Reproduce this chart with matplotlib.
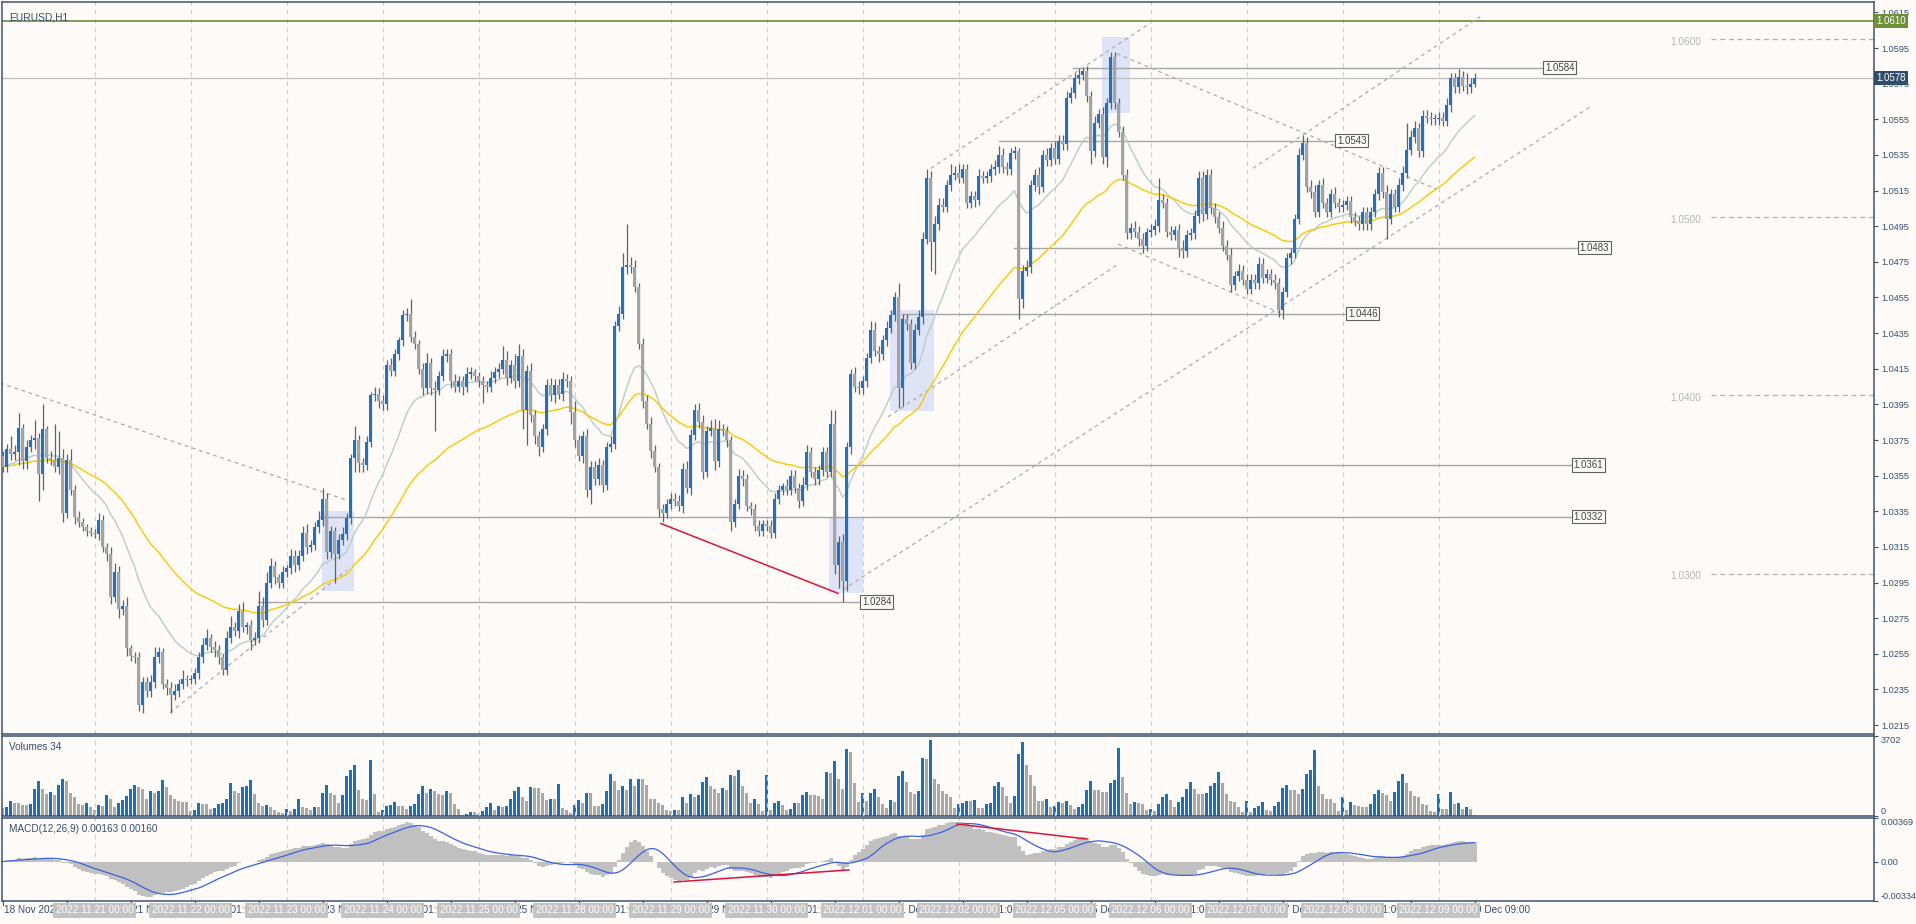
# -*- coding: utf-8 -*-
""" EURUSD H1 chart (MT5 style) with volumes and MACD panels
"""
import numpy as np
import pandas as pd
import matplotlib
matplotlib.use("Agg")
import matplotlib.pyplot as plt
import matplotlib.transforms as mtrans

# ------------------------------------------------------------------
# data
# ------------------------------------------------------------------
first_open = 1.0366

closes = [
    1.0360, 1.0370, 1.0367, 1.0368, 1.0382, 1.0363, 1.0371, 1.0375, 1.0376, 1.0356, 1.0381, 1.0365,
    1.0364, 1.0360, 1.0365, 1.0334, 1.0364, 1.0347, 1.0332, 1.0329, 1.0326, 1.0324, 1.0323, 1.0322,
    1.0330, 1.0315, 1.0311, 1.0287, 1.0301, 1.0280, 1.0282, 1.0258, 1.0254, 1.0253, 1.0226, 1.0239,
    1.0234, 1.0239, 1.0253, 1.0256, 1.0238, 1.0236, 1.0232, 1.0234, 1.0238, 1.0241, 1.0240, 1.0241,
    1.0244, 1.0253, 1.0260, 1.0264, 1.0259, 1.0257, 1.0253, 1.0246, 1.0264, 1.0270, 1.0268, 1.0279,
    1.0270, 1.0271, 1.0263, 1.0264, 1.0282, 1.0274, 1.0295, 1.0304, 1.0298, 1.0295, 1.0301, 1.0303,
    1.0310, 1.0305, 1.0310, 1.0323, 1.0315, 1.0316, 1.0326, 1.0330, 1.0342, 1.0312, 1.0324, 1.0311,
    1.0319, 1.0322, 1.0331, 1.0365, 1.0375, 1.0362, 1.0361, 1.0374, 1.0400, 1.0401, 1.0397, 1.0395,
    1.0417, 1.0414, 1.0423, 1.0431, 1.0445, 1.0446, 1.0433, 1.0429, 1.0415, 1.0404, 1.0418, 1.0404,
    1.0403, 1.0411, 1.0422, 1.0423, 1.0408, 1.0405, 1.0408, 1.0405, 1.0412, 1.0413, 1.0411, 1.0408,
    1.0406, 1.0405, 1.0410, 1.0413, 1.0415, 1.0420, 1.0410, 1.0417, 1.0408, 1.0422, 1.0392, 1.0414,
    1.0389, 1.0377, 1.0371, 1.0381, 1.0406, 1.0400, 1.0406, 1.0401, 1.0409, 1.0408, 1.0391, 1.0375,
    1.0366, 1.0377, 1.0347, 1.0360, 1.0353, 1.0361, 1.0350, 1.0371, 1.0373, 1.0439, 1.0446, 1.0472,
    1.0473, 1.0472, 1.0461, 1.0429, 1.0397, 1.0384, 1.0369, 1.0360, 1.0336, 1.0334, 1.0339, 1.0342,
    1.0341, 1.0338, 1.0359, 1.0348, 1.0378, 1.0392, 1.0385, 1.0357, 1.0380, 1.0382, 1.0363, 1.0381,
    1.0380, 1.0375, 1.0329, 1.0339, 1.0355, 1.0353, 1.0338, 1.0336, 1.0327, 1.0324, 1.0328, 1.0327,
    1.0323, 1.0342, 1.0347, 1.0349, 1.0347, 1.0355, 1.0348, 1.0341, 1.0350, 1.0368, 1.0357, 1.0353,
    1.0358, 1.0368, 1.0357, 1.0384, 1.0305, 1.0318, 1.0296, 1.0371, 1.0412, 1.0405, 1.0404, 1.0408,
    1.0421, 1.0437, 1.0425, 1.0423, 1.0431, 1.0438, 1.0445, 1.0455, 1.0404, 1.0443, 1.0440, 1.0418,
    1.0437, 1.0444, 1.0488, 1.0522, 1.0486, 1.0496, 1.0507, 1.0506, 1.0518, 1.0524, 1.0525, 1.0522,
    1.0527, 1.0508, 1.0512, 1.0510, 1.0523, 1.0522, 1.0523, 1.0527, 1.0528, 1.0535, 1.0528, 1.0527,
    1.0536, 1.0537, 1.0454, 1.0470, 1.0472, 1.0518, 1.0524, 1.0517, 1.0535, 1.0532, 1.0539, 1.0533,
    1.0543, 1.0541, 1.0567, 1.0570, 1.0578, 1.0580, 1.0582, 1.0568, 1.0537, 1.0553, 1.0558, 1.0534,
    1.0564, 1.0590, 1.0564, 1.0548, 1.0524, 1.0491, 1.0494, 1.0492, 1.0488, 1.0484, 1.0492, 1.0493,
    1.0495, 1.0510, 1.0508, 1.0492, 1.0490, 1.0493, 1.0482, 1.0481, 1.0490, 1.0491, 1.0501, 1.0522,
    1.0502, 1.0524, 1.0505, 1.0500, 1.0494, 1.0484, 1.0479, 1.0462, 1.0467, 1.0470, 1.0465, 1.0460,
    1.0465, 1.0463, 1.0474, 1.0466, 1.0468, 1.0465, 1.0463, 1.0448, 1.0458, 1.0477, 1.0480, 1.0499,
    1.0535, 1.0542, 1.0517, 1.0514, 1.0503, 1.0518, 1.0508, 1.0503, 1.0513, 1.0508, 1.0506, 1.0507,
    1.0509, 1.0500, 1.0498, 1.0496, 1.0503, 1.0496, 1.0503, 1.0513, 1.0525, 1.0514, 1.0499, 1.0513,
    1.0506, 1.0518, 1.0525, 1.0538, 1.0545, 1.0550, 1.0537, 1.0557, 1.0556, 1.0555, 1.0555, 1.0556,
    1.0554, 1.0563, 1.0578, 1.0573, 1.0579, 1.0574, 1.0573, 1.0575, 1.0578,
]

# upper / lower wicks in pips
wick_hi = [
    3, 3, 7, 4, 8, 2, 4, 3, 10, 3, 14, 2,
    4, 20, 15, 5, 3, 6, 3, 3, 2, 2, 2, 2,
    4, 3, 2, 4, 5, 3, 3, 5, 2, 2, 3, 3,
    3, 4, 6, 3, 2, 3, 3, 4, 3, 5, 2, 2,
    3, 3, 4, 5, 2, 3, 3, 2, 4, 6, 3, 4,
    5, 2, 3, 3, 8, 5, 6, 5, 3, 2, 3, 2,
    4, 3, 3, 4, 5, 3, 3, 5, 6, 3, 3, 2,
    3, 4, 3, 2, 8, 3, 3, 3, 2, 4, 3, 3,
    3, 4, 3, 2, 3, 3, 8, 3, 2, 3, 6, 3,
    4, 3, 4, 3, 3, 4, 3, 3, 4, 3, 2, 2,
    3, 2, 4, 3, 3, 8, 5, 3, 6, 7, 4, 3,
    4, 3, 3, 3, 3, 4, 3, 3, 4, 3, 3, 6,
    3, 3, 4, 3, 3, 4, 3, 3, 4, 3, 4, 8,
    23, 5, 4, 2, 3, 3, 4, 3, 2, 3, 3, 3,
    3, 3, 3, 4, 3, 3, 4, 4, 3, 4, 5, 5,
    3, 3, 2, 3, 4, 3, 3, 2, 3, 3, 2, 2,
    3, 3, 3, 2, 4, 3, 3, 3, 4, 4, 3, 3,
    3, 3, 3, 8, 8, 3, 4, 3, 3, 4, 3, 3,
    3, 5, 4, 3, 3, 4, 3, 3, 8, 3, 3, 3,
    3, 4, 4, 5, 4, 5, 4, 4, 3, 6, 4, 5,
    3, 3, 3, 3, 4, 3, 3, 3, 4, 5, 4, 3,
    3, 3, 2, 3, 4, 3, 3, 4, 3, 4, 3, 4,
    3, 3, 4, 3, 3, 4, 2, 3, 3, 4, 3, 4,
    3, 3, 3, 3, 3, 3, 3, 4, 3, 3, 2, 3,
    4, 12, 3, 3, 3, 2, 3, 5, 3, 3, 3, 4,
    4, 3, 3, 3, 3, 4, 3, 4, 3, 4, 3, 3,
    3, 3, 4, 3, 3, 3, 3, 3, 3, 3, 3, 3,
    4, 4, 3, 4, 4, 3, 4, 3, 3, 4, 3, 3,
    3, 3, 3, 3, 3, 3, 3, 3, 3, 3, 4, 3,
    3, 4, 4, 15, 4, 4, 3, 3, 3, 3, 3, 3,
    3, 4, 3, 3, 4, 3, 7, 3, 3,
]
wick_lo = [
    3, 3, 3, 3, 7, 4, 4, 3, 5, 15, 9, 3,
    3, 3, 4, 5, 3, 3, 4, 3, 2, 3, 2, 2,
    3, 3, 4, 4, 3, 5, 3, 4, 3, 3, 3, 4,
    3, 3, 3, 3, 3, 4, 10, 3, 3, 3, 3, 2,
    3, 3, 3, 3, 3, 4, 4, 3, 3, 3, 3, 4,
    3, 4, 6, 3, 3, 4, 3, 3, 4, 3, 3, 3,
    3, 4, 3, 3, 4, 3, 3, 3, 3, 4, 3, 16,
    3, 3, 3, 3, 8, 5, 4, 3, 3, 3, 4, 3,
    3, 3, 3, 3, 3, 3, 3, 3, 3, 4, 3, 4,
    23, 3, 3, 3, 4, 3, 3, 5, 3, 3, 3, 3,
    10, 3, 3, 3, 3, 3, 4, 3, 4, 3, 11, 20,
    4, 4, 5, 3, 3, 3, 4, 3, 4, 3, 7, 4,
    3, 4, 4, 8, 3, 3, 4, 3, 3, 3, 3, 3,
    4, 3, 3, 3, 4, 3, 4, 3, 4, 5, 3, 3,
    3, 3, 4, 3, 4, 3, 3, 4, 3, 3, 5, 3,
    3, 4, 5, 3, 3, 4, 3, 3, 3, 3, 3, 3,
    3, 3, 3, 3, 3, 3, 3, 4, 3, 3, 3, 3,
    3, 3, 3, 3, 5, 13, 12, 6, 4, 3, 3, 3,
    3, 3, 3, 4, 3, 3, 3, 3, 11, 10, 3, 3,
    3, 3, 4, 3, 16, 18, 3, 3, 3, 3, 3, 3,
    3, 3, 3, 4, 3, 3, 3, 3, 3, 3, 3, 3,
    3, 3, 11, 5, 3, 3, 3, 4, 3, 3, 3, 3,
    3, 3, 3, 3, 3, 3, 3, 3, 7, 3, 3, 4,
    6, 3, 3, 3, 3, 3, 3, 3, 4, 4, 3, 3,
    3, 3, 3, 3, 3, 3, 4, 4, 3, 3, 3, 4,
    4, 3, 3, 3, 3, 3, 3, 4, 3, 3, 3, 3,
    3, 3, 3, 3, 3, 3, 3, 4, 5, 3, 3, 3,
    3, 3, 3, 3, 3, 3, 3, 3, 3, 3, 3, 3,
    3, 3, 3, 3, 3, 3, 3, 3, 3, 3, 11, 3,
    3, 3, 3, 3, 3, 3, 3, 3, 3, 3, 3, 3,
    3, 3, 4, 3, 3, 3, 4, 3, 2,
]

volumes = [
    370, 450, 750, 650, 650, 550, 550, 600, 1300, 1700, 1300, 1050, 1150, 1000, 1500, 1800, 1700, 1100, 900, 600, 550, 650, 450,
    300, 550, 500, 1000, 850, 450, 650, 800, 950, 1300, 1500, 1400, 1300, 850, 1200, 1100, 1200, 1750, 1400, 1000, 850, 750, 700, 700,
    250, 300, 650, 600, 600, 350, 400, 600, 650, 850, 1600, 1200, 1100, 1400, 1450, 1750, 1050, 650, 500, 550, 450, 300, 200, 150,
    350, 250, 350, 850, 450, 400, 300, 450, 450, 1100, 1500, 1100, 1000, 650, 1000, 1950, 2250, 2500, 1250, 850, 800, 2700, 1050, 200,
    300, 500, 550, 700, 500, 500, 350, 500, 600, 1050, 1450, 1100, 1300, 1200, 1050, 1000, 1200, 1100, 600, 350, 50, 100, 200, 200,
    120, 250, 450, 650, 300, 500, 450, 500, 850, 1200, 1400, 900, 750, 1400, 1350, 1350, 1100, 800, 850, 850, 1550, 400, 270, 150,
    550, 800, 650, 1100, 1100, 500, 500, 600, 1200, 2050, 1700, 1250, 1450, 1250, 1800, 1450, 1800, 1800, 1500, 850, 850, 650, 550, 300,
    250, 300, 300, 900, 650, 1050, 900, 1000, 1650, 1900, 1450, 1300, 1100, 1350, 1250, 2000, 1950, 2220,
    1450, 1100, 650, 850, 600, 250, 2000, 300, 650, 750, 550, 300, 350, 650, 650, 1000, 1150, 1000, 1000, 950, 850, 2150, 2100, 2650,
    1800, 1300, 3250, 3100, 1600, 700,
    1100, 750, 1100, 1300, 900, 600, 400, 800, 700, 1950, 2200, 1650, 1150, 1050, 1200, 2800, 2750, 3702, 1800, 1550, 1200, 1050, 900, 400,
    600, 650, 750, 750, 800, 400, 400, 600, 650, 1450, 1650, 1400, 950, 650, 950, 3000, 3600, 2500, 2000, 1450, 750, 750, 850, 450,
    500, 700, 650, 750, 550, 350, 450, 600, 1250, 1700, 1250, 1250, 1150, 1150, 1600, 1750, 3300, 1900, 1100, 600, 700, 650, 600, 300,
    350, 250, 600, 900, 1050, 800, 450, 700, 900, 1300, 1650, 1300, 1050, 1050, 1100, 1450, 1600, 2150, 1600, 1050, 750, 700, 450, 200,
    750, 200, 400, 500, 700, 300, 250, 500, 700, 1350, 1500, 1250, 1250, 1050, 1300, 2050, 2250, 3200, 1450, 1050, 850, 850, 650, 250,
    900, 300, 700, 550, 500, 450, 450, 600, 1050, 1250, 1100, 1000, 750, 1150, 1700, 2050, 1600, 1200, 950, 900, 600, 550, 250, 200,
    1050, 350, 350, 1150, 600, 650, 350, 450, 350, 50,
]

# price level lines: (price, bar from, bar to)
level_lines = [
    (1.0584, 267.6, 385.0),
    (1.0543, 249.1, 333.0),
    (1.0483, 252.9, 393.6),
    (1.0446, 224.9, 335.8),
    (1.0361, 210.9, 392.2),
    (1.0332, 79.4, 392.2),
    (1.0284, 63.9, 214.3),
]
round_levels = [1.0600, 1.0500, 1.0400, 1.0300]

# dashed trend lines: (bar, price) -> (bar, price)
trend_lines = [
    ((-0.6, 1.0407), (86.4, 1.0341)),
    ((41.9, 1.0222), (86.1, 1.0302)),
    ((210.1, 1.0291), (396.9, 1.0562)),
    ((232.1, 1.05275), (286.9, 1.0609)),
    ((312.6, 1.05275), (369.4, 1.06126)),
    ((221.4, 1.0388), (278.9, 1.04737)),
    ((278.6, 1.05919), (358.6, 1.05157)),
    ((278.9, 1.04849), (320.1, 1.04457)),
]
red_line = ((164.6, 1.03281), (208.9, 1.02889))
macd_red_lines = [
    ((167.9, -0.00173), (211.6, -0.00071)),
    ((238.6, 0.00318), (271.1, 0.00191)),
]

# highlighted rectangles: bar from, bar to, price low, price high
boxes = [
    (79.9, 87.9, 1.02900, 1.03354),
    (206.6, 215.1, 1.02889, 1.03320),
    (221.9, 232.9, 1.03914, 1.04480),
    (274.9, 281.9, 1.05588, 1.06014),
]

alert_price = 1.0610
last_price = 1.0578
macd_hi, macd_lo = 0.00369, -0.00334

# ------------------------------------------------------------------
# colours
# ------------------------------------------------------------------
bg = "#fdfaf8"
frame = "#3b536b"
txt = "#34506e"
bull = "#2271c0"
bear = "#a3a3a3"
wick_c = "#56666e"
grid_c = "#cdcdcd"

plt.rcParams["font.family"] = ["Liberation Sans", "DejaVu Sans"]
fs = 6.6

W, H = 1916, 924
fig = plt.figure(figsize=(W / 100, H / 100), dpi=100)
fig.patch.set_facecolor(bg)


def ax_px(x0, y0, x1, y1):
    """ pixel box -> axes """
    a = fig.add_axes([x0 / W, 1 - y1 / H, (x1 - x0) / W, (y1 - y0) / H])
    a.set_facecolor(bg)
    for s in a.spines.values():
        s.set_color(frame)
        s.set_linewidth(1.1)
    a.set_xlim(-0.125, 467.875)
    a.tick_params(axis="x", bottom=False, labelbottom=False)
    a.yaxis.tick_right()
    a.tick_params(axis="y", length=3, width=0.8, color=frame, labelsize=fs, labelcolor=txt, pad=2)
    return a


n = len(closes)
idx = np.arange(n)
c = np.array(closes)
o = np.concatenate([[first_open], c[:-1]])
hi = np.maximum(o, c) + np.array(wick_hi) * 0.0001
lo = np.minimum(o, c) - np.array(wick_lo) * 0.0001
up = c >= o

times = pd.date_range("2022-11-18 01:00", "2022-12-09 09:00", freq="h")
times = times[times.dayofweek < 5]
day_starts = [i for i, t in enumerate(times) if t.hour == 0]

# ------------------------------------------------------------------
# main price panel
# ------------------------------------------------------------------
ax = ax_px(2, 2, 1874, 734)
ax.set_ylim(1.020996, 1.062088)
pticks = [1.0215 + 0.002 * k for k in range(21)]
ax.set_yticks(pticks)
ax.set_yticklabels(["%.4f" % p for p in pticks])

for d in day_starts:
    ax.axvline(d, color=grid_c, lw=0.8, dashes=(4, 4), zorder=0)

for b0, b1, p0, p1 in boxes:
    ax.add_patch(plt.Rectangle((b0, p0), b1 - b0, p1 - p0, fc="#dfe3f7", ec="none", zorder=0.5))

# round levels (dashed) with light labels
for p in round_levels:
    ax.plot([427, 467.875], [p, p], color="#b0b0b0", lw=0.9, dashes=(4, 3), zorder=1)
    ax.text(417.0, p - 0.00016, "%.4f" % p, fontsize=7.2, color="#b4b4b4", va="center", ha="left", zorder=1)

ax.axhline(alert_price, color="#6e8b3d", lw=1.2, zorder=1)
ax.axhline(last_price, color="#bdbdbd", lw=0.9, zorder=1)

for p, b0, b1 in level_lines:
    ax.plot([b0, b1], [p, p], color="#a6a6a6", lw=1.0, zorder=1)
    ax.text(b1 + 0.6, p, "%.4f" % p, fontsize=7.0, color="#444444", va="center", ha="left", zorder=6,
            bbox=dict(boxstyle="square,pad=0.18", fc=bg, ec="#606060", lw=0.8))

for (b0, p0), (b1, p1) in trend_lines:
    ax.plot([b0, b1], [p0, p1], color="#ababab", lw=0.9, dashes=(3, 3), zorder=1.5)
ax.plot([red_line[0][0], red_line[1][0]], [red_line[0][1], red_line[1][1]], color="#dc143c", lw=1.1, zorder=5)

# moving averages
cs = pd.Series(c)
ma_fast = cs.ewm(span=20, adjust=False).mean()
ma_slow = cs.ewm(span=50, adjust=False).mean()
ax.plot(idx, ma_fast, color="#b7cdca", lw=1.0, zorder=2)
ax.plot(idx, ma_slow, color="#f7c900", lw=1.0, zorder=2)

# candles
ax.vlines(idx, lo, hi, color=wick_c, lw=0.9, zorder=3)
body = np.maximum(np.abs(c - o), 0.00005)
ax.bar(idx, body, bottom=np.minimum(o, c), width=0.75, color=np.where(up, bull, bear), lw=0, zorder=4)

ax.text(0.004, 0.985, "EURUSD,H1", transform=ax.transAxes, fontsize=7.4, color=txt, va="top", ha="left")

# right side price tags
tr = mtrans.blended_transform_factory(ax.transAxes, ax.transData)
ax.text(1.0012, alert_price, "%.4f" % alert_price, transform=tr, fontsize=fs + 0.4, color="white", va="center",
        ha="left", zorder=10, clip_on=False, bbox=dict(boxstyle="square,pad=0.2", fc="#6f8f3a", ec="none"))
ax.text(1.0012, last_price, "%.4f" % last_price, transform=tr, fontsize=fs + 0.4, color="white", va="center",
        ha="left", zorder=10, clip_on=False, bbox=dict(boxstyle="square,pad=0.2", fc="#2e4d6b", ec="none"))

# ------------------------------------------------------------------
# volumes panel
# ------------------------------------------------------------------
av = ax_px(2, 736, 1874, 816)
v = np.array(volumes)
v_up = np.concatenate([[False], v[1:] > v[:-1]])
for d in day_starts:
    av.axvline(d, color=grid_c, lw=0.8, dashes=(4, 4), zorder=3)
av.bar(idx, v, width=0.75, color=np.where(v_up, "#1f6fb5", "#a8a8a8"), lw=0, zorder=2)
av.set_ylim(0, v.max() * 1.05)
av.set_yticks([v.max() * 1.05, 0])
av.set_yticklabels(["%d" % v.max(), "0"])
lbls = av.get_yticklabels()
lbls[0].set_verticalalignment("top")
lbls[1].set_verticalalignment("bottom")
av.text(0.004, 0.93, "Volumes 34", transform=av.transAxes, fontsize=7.2, color=txt, va="top", ha="left")

# ------------------------------------------------------------------
# MACD panel
# ------------------------------------------------------------------
am = ax_px(2, 818, 1874, 901)
ema12 = cs.ewm(span=12, adjust=False).mean()
ema26 = cs.ewm(span=26, adjust=False).mean()
macd = ema12 - ema26
signal = macd.rolling(9, min_periods=1).mean()
for d in day_starts:
    am.axvline(d, color=grid_c, lw=0.8, dashes=(4, 4), zorder=0)
am.bar(idx, macd, width=1.0, color="#c0c0c0", lw=0, zorder=1)
am.plot(idx, signal, color="#3a62e0", lw=0.9, zorder=2)
for (b0, p0), (b1, p1) in macd_red_lines:
    am.plot([b0, b1], [p0, p1], color="#dc143c", lw=1.1, zorder=3)
am.set_ylim(macd_lo, macd_hi)
am.set_yticks([macd_hi, 0.0, macd_lo])
am.set_yticklabels(["%.5f" % macd_hi, "0.00", "%.5f" % macd_lo])
mlbls = am.get_yticklabels()
mlbls[0].set_verticalalignment("top")
mlbls[2].set_verticalalignment("bottom")
am.text(0.004, 0.93, "MACD(12,26,9) 0.00163 0.00160", transform=am.transAxes, fontsize=7.2, color=txt,
        va="top", ha="left")

# time axis
tx = mtrans.blended_transform_factory(am.transData, am.transAxes)
for i in range(0, n, 16):
    t = times[i]
    lab = "18 Nov 2022" if i == 0 else "%d %s %s" % (t.day, t.strftime("%b"), t.strftime("%H:%M"))
    am.plot([i, i], [0, -0.045], color=frame, lw=0.8, transform=tx, clip_on=False)
    am.text(i + 0.4, -0.11, lab, transform=tx, fontsize=fs + 0.6, color=txt, va="center", ha="left", clip_on=False)
for d in day_starts:
    am.text(d, -0.11, times[d].strftime("%Y.%m.%d %H:%M"), transform=tx, fontsize=fs + 0.6, color="white",
            va="center", ha="center", clip_on=False, zorder=10,
            bbox=dict(boxstyle="square,pad=0.25", fc="#c3c3c3", ec="none"))

fig.savefig("out.png", dpi=100, facecolor=bg)
